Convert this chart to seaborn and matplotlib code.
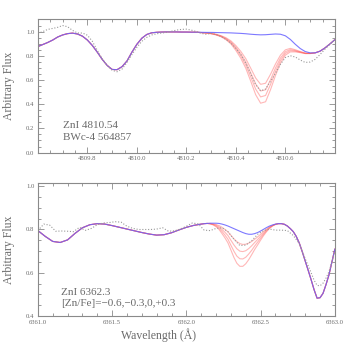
import numpy as np
import pandas as pd
import matplotlib
matplotlib.use("Agg")
import matplotlib.pyplot as plt
from matplotlib.ticker import MultipleLocator, FixedLocator, FormatStrFormatter
import seaborn as sns

# ---------------- data: top panel (ZnI 4810.54) ----------------
wl_top = [4809.60, 4809.62, 4809.64, 4809.66, 4809.68, 4809.70, 4809.72, 4809.74, 4809.76, 4809.78,
          4809.80, 4809.82, 4809.84, 4809.86, 4809.88, 4809.90, 4809.92, 4809.94, 4809.96, 4809.98,
          4810.00, 4810.02, 4810.04, 4810.06, 4810.08, 4810.10, 4810.12, 4810.14, 4810.16, 4810.18,
          4810.20, 4810.22, 4810.24, 4810.26, 4810.28, 4810.30, 4810.32, 4810.34, 4810.36, 4810.38,
          4810.40, 4810.42, 4810.44, 4810.46, 4810.48, 4810.50, 4810.52, 4810.54, 4810.56, 4810.58,
          4810.60, 4810.62, 4810.64, 4810.66, 4810.68, 4810.70, 4810.72, 4810.74, 4810.76, 4810.78,
          4810.80]
top_noZn = [0.876, 0.893, 0.910, 0.930, 0.955, 0.972, 0.983, 0.987, 0.980, 0.962,
            0.930, 0.885, 0.830, 0.770, 0.720, 0.687, 0.685, 0.710, 0.757, 0.830,
            0.895, 0.945, 0.976, 0.990, 0.994, 0.996, 0.997, 0.997, 0.997, 0.996,
            0.996, 0.995, 0.995, 0.994, 0.993, 0.993, 0.992, 0.991, 0.990, 0.989,
            0.987, 0.985, 0.982, 0.978, 0.975, 0.973, 0.974, 0.977, 0.980, 0.978,
            0.965, 0.935, 0.895, 0.860, 0.835, 0.824, 0.824, 0.838, 0.865, 0.898,
            0.933]
_left_top = top_noZn[:33]
_right_top = top_noZn[57:]
top_m06 = _left_top + [0.992, 0.989, 0.985, 0.978, 0.966, 0.949, 0.923, 0.884, 0.836, 0.776,
                       0.697, 0.616, 0.564, 0.573, 0.647, 0.732, 0.805, 0.849, 0.861, 0.850,
                       0.835, 0.823, 0.820, 0.824] + _right_top
top_m03 = _left_top + [0.992, 0.988, 0.984, 0.976, 0.963, 0.943, 0.914, 0.870, 0.816, 0.748,
                       0.659, 0.567, 0.509, 0.519, 0.602, 0.699, 0.781, 0.834, 0.851, 0.843,
                       0.832, 0.821, 0.819, 0.824] + _right_top
top_p00 = _left_top + [0.991, 0.988, 0.983, 0.974, 0.960, 0.938, 0.906, 0.858, 0.799, 0.723,
                       0.626, 0.524, 0.460, 0.472, 0.563, 0.669, 0.760, 0.820, 0.842, 0.838,
                       0.829, 0.819, 0.819, 0.824] + _right_top
top_p03 = _left_top + [0.991, 0.987, 0.982, 0.972, 0.957, 0.933, 0.898, 0.844, 0.779, 0.697,
                       0.590, 0.478, 0.408, 0.420, 0.520, 0.637, 0.738, 0.805, 0.832, 0.832,
                       0.826, 0.818, 0.818, 0.824] + _right_top
top_obs = [0.985, 1.000, 1.018, 1.026, 1.035, 1.050, 1.040, 1.010, 0.988, 0.988,
           0.970, 0.920, 0.845, 0.775, 0.720, 0.680, 0.668, 0.690, 0.745, 0.810,
           0.870, 0.920, 0.952, 0.972, 0.982, 0.988, 0.993, 1.003, 1.012, 1.018,
           1.020, 1.012, 1.000, 0.985, 0.978, 0.985, 0.975, 0.960, 0.935, 0.905,
           0.862, 0.810, 0.740, 0.650, 0.560, 0.510, 0.525, 0.590, 0.655, 0.730,
           0.785, 0.800, 0.790, 0.765, 0.745, 0.748, 0.770, 0.810, 0.855, 0.895,
           0.930]
top_xticks = [4809.8, 4810.0, 4810.2, 4810.4, 4810.6]

# ---------------- data: bottom panel (ZnI 6362.3) ----------------
wl_bot = [6361.00, 6361.05, 6361.10, 6361.15, 6361.20, 6361.25, 6361.30, 6361.35, 6361.40, 6361.45,
          6361.50, 6361.55, 6361.60, 6361.65, 6361.70, 6361.75, 6361.80, 6361.85, 6361.90, 6361.95,
          6362.00, 6362.05, 6362.10, 6362.12, 6362.14, 6362.16, 6362.18, 6362.20, 6362.22, 6362.24,
          6362.26, 6362.28, 6362.30, 6362.32, 6362.34, 6362.36, 6362.38, 6362.40, 6362.42, 6362.44,
          6362.46, 6362.48, 6362.50, 6362.52, 6362.54, 6362.56, 6362.58, 6362.60, 6362.62, 6362.64,
          6362.66, 6362.68, 6362.70, 6362.72, 6362.74, 6362.76, 6362.78, 6362.80, 6362.82, 6362.84,
          6362.86, 6362.88, 6362.90, 6362.92, 6362.94, 6362.96, 6362.98, 6363.00]
bot_noZn = [0.795, 0.768, 0.745, 0.740, 0.752, 0.782, 0.808, 0.822, 0.827, 0.825,
            0.818, 0.810, 0.802, 0.794, 0.786, 0.779, 0.774, 0.776, 0.785, 0.798,
            0.810, 0.819, 0.825, 0.827, 0.828, 0.829, 0.829, 0.829, 0.828, 0.825,
            0.821, 0.816, 0.810, 0.804, 0.798, 0.792, 0.786, 0.781, 0.778, 0.778,
            0.781, 0.786, 0.793, 0.801, 0.809, 0.816, 0.821, 0.825, 0.827, 0.827,
            0.824, 0.816, 0.804, 0.790, 0.768, 0.738, 0.698, 0.655, 0.612, 0.568,
            0.522, 0.483, 0.485, 0.505, 0.545, 0.590, 0.650, 0.710]
_left_bot = bot_noZn[:25]
_right_bot = bot_noZn[48:]
bot_m06 = _left_bot + [0.828, 0.826, 0.823, 0.818, 0.810, 0.800, 0.789, 0.773, 0.757, 0.744,
                       0.735, 0.731, 0.732, 0.737, 0.745, 0.755, 0.766, 0.778, 0.791, 0.802,
                       0.812, 0.819, 0.824] + _right_bot
bot_m03 = _left_bot + [0.827, 0.824, 0.820, 0.812, 0.800, 0.787, 0.772, 0.750, 0.729, 0.711,
                       0.700, 0.698, 0.702, 0.712, 0.725, 0.740, 0.754, 0.769, 0.784, 0.798,
                       0.810, 0.818, 0.824] + _right_bot
bot_p00 = _left_bot + [0.826, 0.823, 0.816, 0.806, 0.791, 0.774, 0.755, 0.727, 0.700, 0.677,
                       0.665, 0.664, 0.672, 0.687, 0.704, 0.724, 0.742, 0.760, 0.778, 0.794,
                       0.807, 0.817, 0.824] + _right_bot
bot_p03 = _left_bot + [0.826, 0.821, 0.813, 0.800, 0.781, 0.761, 0.738, 0.705, 0.671, 0.644,
                       0.630, 0.630, 0.642, 0.661, 0.684, 0.708, 0.729, 0.751, 0.772, 0.790,
                       0.805, 0.816, 0.823] + _right_bot
wl_bot_obs = [6361.00, 6361.04, 6361.08, 6361.12, 6361.16, 6361.20, 6361.24, 6361.28, 6361.32, 6361.36,
              6361.40, 6361.44, 6361.48, 6361.52, 6361.56, 6361.60, 6361.64, 6361.68, 6361.72, 6361.76,
              6361.80, 6361.84, 6361.88, 6361.92, 6361.96, 6362.00, 6362.04, 6362.08, 6362.12, 6362.16,
              6362.20, 6362.24, 6362.28, 6362.32, 6362.36, 6362.40, 6362.44, 6362.48, 6362.52, 6362.56,
              6362.60, 6362.64, 6362.68, 6362.72, 6362.76, 6362.80, 6362.84, 6362.86, 6362.88, 6362.90,
              6362.92, 6362.94, 6362.96, 6362.98, 6363.00]
bot_obs = [0.795, 0.825, 0.820, 0.792, 0.793, 0.792, 0.790, 0.810, 0.796, 0.805,
           0.822, 0.830, 0.832, 0.836, 0.834, 0.815, 0.805, 0.800, 0.800, 0.800,
           0.802, 0.808, 0.792, 0.794, 0.802, 0.815, 0.830, 0.826, 0.797, 0.795,
           0.805, 0.808, 0.790, 0.755, 0.726, 0.728, 0.748, 0.778, 0.795, 0.802,
           0.797, 0.797, 0.795, 0.772, 0.735, 0.665, 0.600, 0.566, 0.542, 0.540,
           0.552, 0.575, 0.605, 0.650, 0.700]

top_text = ["ZnI 4810.54", "BWc-4 564857"]
bot_text = ["ZnI 6362.3", "[Zn/Fe]=\u22120.6,\u22120.3,0,+0.3"]
ylabel = "Arbitrary Flux"
xlabel = "Wavelength (\u00c5)"

# ---------------- style ----------------
sns.set_style("ticks")
plt.rcParams["font.family"] = ["Liberation Serif", "DejaVu Serif"]
GRAY = "#6a6a6a"
SPINE = "#8a8a8a"
RED = (1.0, 0.3, 0.3)
BLUE = (0.4, 0.38, 1.0)

fig = plt.figure(figsize=(3.54, 3.54), dpi=100)
ax1 = fig.add_axes([0.107, 0.569, 0.839, 0.376])
ax2 = fig.add_axes([0.107, 0.107, 0.839, 0.375])


def draw(ax, wl, reds, blue, wl_obs, obs):
    for r in reds:
        sns.lineplot(x=wl, y=r, ax=ax, color=RED, alpha=0.4, lw=0.8,
                     sort=False, estimator=None)
    sns.lineplot(x=wl, y=blue, ax=ax, color=BLUE, alpha=0.85, lw=0.8,
                 sort=False, estimator=None)
    sns.lineplot(x=wl_obs, y=obs, ax=ax, color="#999999", lw=0.8,
                 linestyle=(0, (1, 1.6)), sort=False, estimator=None)


draw(ax1, wl_top, [top_m06, top_m03, top_p00, top_p03], top_noZn, wl_top, top_obs)
draw(ax2, wl_bot, [bot_m06, bot_m03, bot_p00, bot_p03], bot_noZn, wl_bot_obs, bot_obs)

ax1.set_xlim(4809.6, 4810.8)
ax1.set_ylim(0.0, 1.1)
ax1.xaxis.set_major_locator(FixedLocator(top_xticks))
ax1.xaxis.set_minor_locator(MultipleLocator(0.05))
ax1.yaxis.set_major_locator(MultipleLocator(0.2))
ax1.yaxis.set_minor_locator(MultipleLocator(0.05))

ax2.set_xlim(6361.0, 6363.0)
ax2.set_ylim(0.4, 1.013)
ax2.xaxis.set_major_locator(MultipleLocator(0.5))
ax2.xaxis.set_minor_locator(MultipleLocator(0.1))
ax2.yaxis.set_major_locator(MultipleLocator(0.2))
ax2.yaxis.set_minor_locator(MultipleLocator(0.05))

for ax in (ax1, ax2):
    ax.xaxis.set_major_formatter(FormatStrFormatter("%.1f"))
    ax.yaxis.set_major_formatter(FormatStrFormatter("%.1f"))
    ax.tick_params(which="both", direction="in", top=True, right=True,
                   colors=SPINE, labelcolor=GRAY, labelsize=4.8, width=0.6, pad=2.5)
    ax.tick_params(which="major", length=4)
    ax.tick_params(which="minor", length=2)
    for s in ax.spines.values():
        s.set_color(SPINE)
        s.set_linewidth(0.8)
    ax.set_ylabel(ylabel, fontsize=8.5, color=GRAY)
    ax.yaxis.set_label_coords(-0.077, 0.5)
    ax.set_xlabel("")

ax2.set_xlabel(xlabel, fontsize=8.5, color=GRAY)
ax2.xaxis.set_label_coords(0.407, -0.09)

ax1.text(0.084, 0.20, top_text[0], transform=ax1.transAxes, fontsize=8, color=GRAY, va="center")
ax1.text(0.084, 0.117, top_text[1], transform=ax1.transAxes, fontsize=8, color=GRAY, va="center")
ax2.text(0.077, 0.181, bot_text[0], transform=ax2.transAxes, fontsize=8, color=GRAY, va="center")
ax2.text(0.077, 0.098, bot_text[1], transform=ax2.transAxes, fontsize=8, color=GRAY, va="center")

fig.savefig("out.png", dpi=100)
